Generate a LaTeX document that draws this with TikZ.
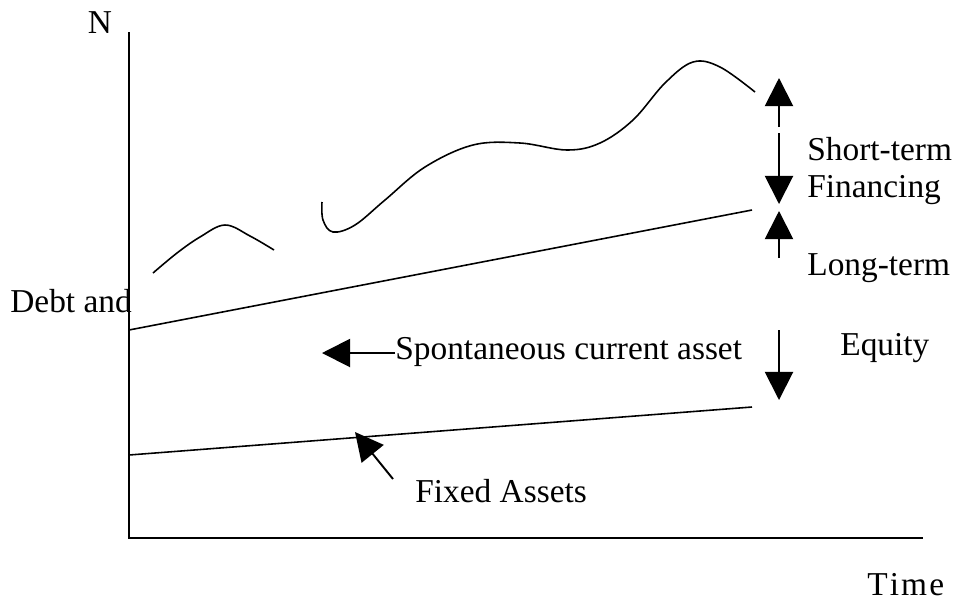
\documentclass[tikz,border=0pt]{standalone}
\usepackage{fontspec}
\setmainfont{Liberation Serif}
\usetikzlibrary{arrows.meta}

\tikzset{
  lbl/.style={inner sep=0pt, font=\fontsize{19}{22}\selectfont},
  bigarrow/.style={line width=1.1pt, -{Triangle[length=16pt,width=16pt]}},
  curve/.style={line width=0.9pt},
}

\begin{document}
\begin{tikzpicture}[x=0.02cm, y=-0.02cm]
\useasboundingbox (0,0) rectangle (960,600);

% Axes
\coordinate (origin) at (129,538);
\coordinate (ytop) at (129,32);
\coordinate (xend) at (923,538);
\draw[line width=1.3pt] (ytop) -- (origin) -- (xend);

% Axis labels
\node[lbl, anchor=base] (nlabel) at (100,33) {N};
\node[lbl, anchor=base west] (debt) at (10,312) {Debt and};
\node[lbl, anchor=base west] (time) at (867,595) {T\kern1.2pt i\kern1.2pt m\kern1.2pt e};

% Straight lines
\coordinate (ltstart) at (129,330);
\coordinate (ltend) at (752,210);
\coordinate (fastart) at (129,455);
\coordinate (faend) at (752,407);
\draw[curve] (ltstart) -- (ltend);
\draw[curve] (fastart) -- (faend);

% Fluctuating curves
\draw[curve] plot[smooth, tension=0.6] coordinates
    {(153,273) (177,253) (200,237) (225,225) (250,236) (274,250)};
\draw[curve] plot[smooth, tension=0.6] coordinates
    {(322,202) (323,220) (333,232) (355,225) (385,200) (425,167)
     (473,145) (520,143) (567,150) (600,143) (633,120) (665,83)
     (693,62) (720,67) (755,92)};

% Vertical arrows
\coordinate (a1) at (779,127);
\coordinate (a1tip) at (779,78);
\coordinate (a2) at (779,133);
\coordinate (a2tip) at (779,204);
\coordinate (a3) at (779,258);
\coordinate (a3tip) at (779,211);
\coordinate (a4) at (779,330);
\coordinate (a4tip) at (779,400);
\draw[bigarrow] (a1) -- (a1tip);
\draw[bigarrow] (a2) -- (a2tip);
\draw[bigarrow] (a3) -- (a3tip);
\draw[bigarrow] (a4) -- (a4tip);

% Labels
\node[lbl, anchor=base west] (short) at (807,160) {Short-term};
\node[lbl, anchor=base west] (fin) at (807,197) {Financing};
\node[lbl, anchor=base west] (long) at (807,275) {Long-term};
\node[lbl, anchor=base west] (equity) at (840,355) {Equity};
\node[lbl, anchor=base west] (spont) at (395,359) {Spontaneous current asset};
\node[lbl, anchor=base west] (fixed) at (415,502) {Fixed Assets};

% Pointers
\coordinate (spontip) at (322,353);
\coordinate (fixtail) at (393,479);
\coordinate (fixtip) at (355,432);
\draw[bigarrow] (spont.west |- spontip) -- (spontip);
\draw[bigarrow] (fixtail) -- (fixtip);

\end{tikzpicture}
\end{document}
